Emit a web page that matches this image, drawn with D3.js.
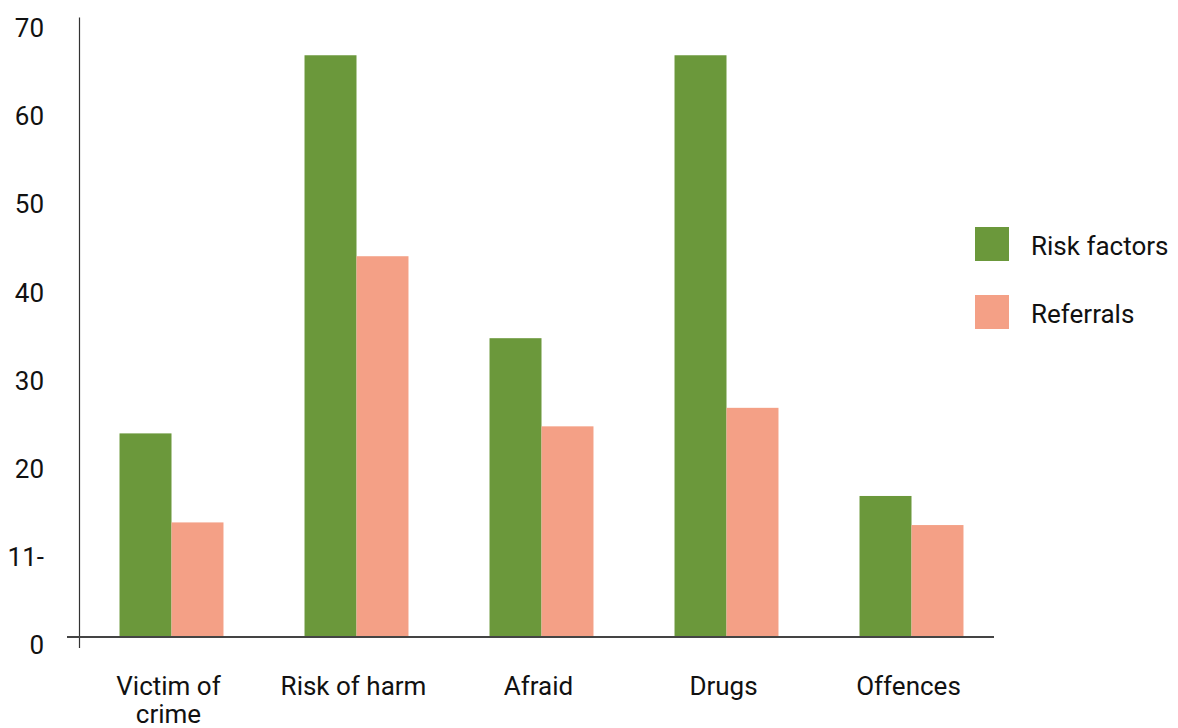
<!DOCTYPE html>
<html>
<head>
<meta charset="utf-8">
<script src="https://cdn.jsdelivr.net/npm/d3@7"></script>
<style>
  html, body { margin: 0; padding: 0; background: #fff; }
  svg { display: block; }
  text { font-family: Roboto, "Open Sans", sans-serif; fill: #111; }
</style>
</head>
<body>
<svg id="chart" width="1178" height="728"></svg>
<script>
// Chart data
const categories = [["Victim of", "crime"], ["Risk of harm"], ["Afraid"], ["Drugs"], ["Offences"]];
const seriesNames = ["Risk factors", "Referrals"];
const riskFactors = [23.1, 66.0, 33.9, 66.0, 16.0];
const referrals = [13.0, 43.2, 23.9, 26.0, 12.7];
const tickValues = [0, 10, 20, 30, 40, 50, 60, 70];
const tickLabels = ["0", "11-", "20", "30", "40", "50", "60", "70"];
const colors = ["#6b983b", "#f4a086"];

const svg = d3.select("#chart");
const fontSize = 26;

const catKeys = categories.map(c => c.join(" "));
const values = [riskFactors, referrals];

const x0 = d3.scaleBand()
  .domain(catKeys)
  .range([79, 1004])
  .paddingInner(0.438)
  .paddingOuter(0.219);

const x1 = d3.scaleBand()
  .domain(seriesNames)
  .range([0, x0.bandwidth()])
  .padding(0);

const y = d3.scaleLinear()
  .domain([0, 70])
  .range([637, 20]);

// Bars
const groups = svg.append("g")
  .selectAll("g")
  .data(catKeys)
  .join("g")
  .attr("transform", d => `translate(${x0(d)},0)`);

groups.selectAll("rect")
  .data((d, i) => seriesNames.map((s, j) => ({ s, v: values[j][i], j })))
  .join("rect")
  .attr("x", d => x1(d.s))
  .attr("width", x1.bandwidth())
  .attr("y", d => y(d.v))
  .attr("height", d => y(0) - y(d.v))
  .attr("fill", d => colors[d.j]);

// Y axis line
svg.append("line")
  .attr("x1", 79.5).attr("x2", 79.5)
  .attr("y1", 17.5).attr("y2", 648)
  .attr("stroke", "#333").attr("stroke-width", 1.2);

// Baseline
svg.append("line")
  .attr("x1", 67).attr("x2", 994)
  .attr("y1", y(0)).attr("y2", y(0))
  .attr("stroke", "#444").attr("stroke-width", 1.8);

// Y tick labels
svg.append("g")
  .selectAll("text")
  .data(tickValues)
  .join("text")
  .attr("x", 44)
  .attr("y", d => y(d) + 8)
  .attr("dy", "0.35em")
  .attr("text-anchor", "end")
  .attr("font-size", fontSize)
  .text((d, i) => tickLabels[i]);

// Category labels
const catLabels = svg.append("g")
  .selectAll("text")
  .data(categories)
  .join("text")
  .attr("text-anchor", "middle")
  .attr("font-size", fontSize)
  .attr("transform", (d, i) => `translate(${x0(catKeys[i]) + x0.bandwidth() / 2 - 3},${686})`);

catLabels.selectAll("tspan")
  .data(d => d)
  .join("tspan")
  .attr("x", 0)
  .attr("y", (d, i) => i * 28)
  .attr("dy", "0.35em")
  .text(d => d);

// Legend
const legend = svg.append("g")
  .selectAll("g")
  .data(seriesNames)
  .join("g")
  .attr("transform", (d, i) => `translate(975,${227 + i * 68})`);

legend.append("rect")
  .attr("width", 34).attr("height", 34)
  .attr("fill", (d, i) => colors[i]);

legend.append("text")
  .attr("x", 56)
  .attr("y", 19)
  .attr("dy", "0.35em")
  .attr("font-size", fontSize)
  .text(d => d);
</script>
</body>
</html>
